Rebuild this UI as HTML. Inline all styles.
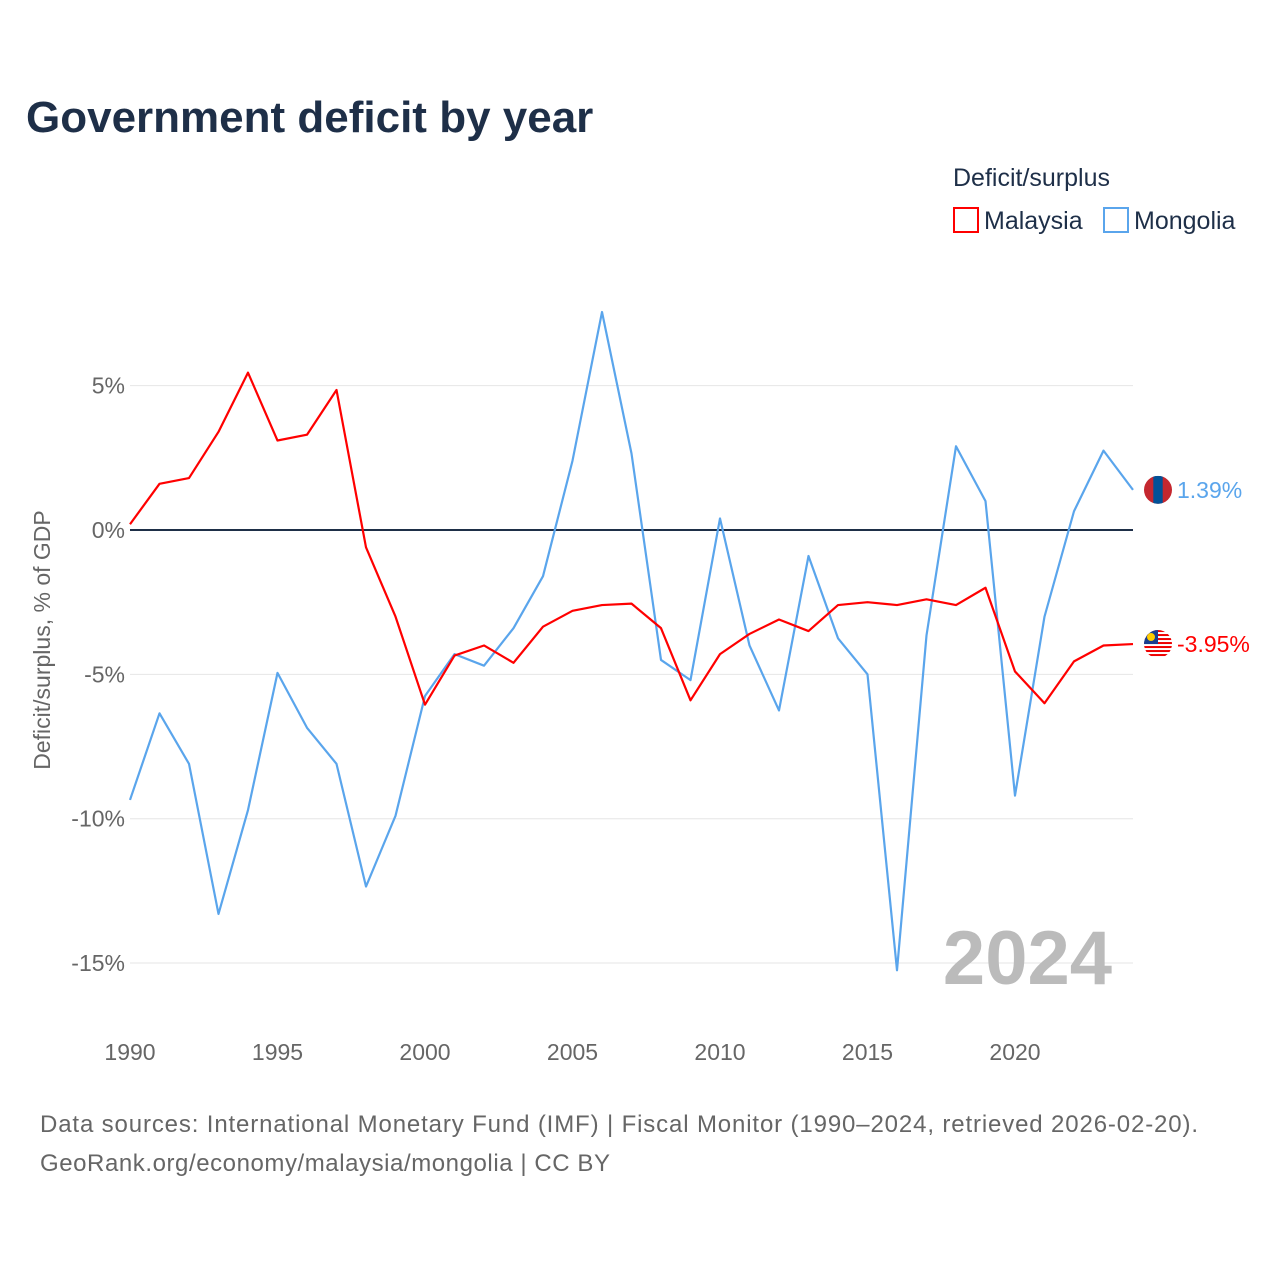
<!DOCTYPE html>
<html><head><meta charset="utf-8"><style>
body{margin:0;background:#fff;font-family:"Liberation Sans",sans-serif}
svg text{font-family:"Liberation Sans",sans-serif}
</style></head><body>
<svg id="c" width="1280" height="1280" xmlns="http://www.w3.org/2000/svg">
<defs>
<clipPath id="cm"><circle cx="0" cy="0" r="14"/></clipPath>
</defs>
<text x="26" y="132" font-size="44" font-weight="bold" fill="#1e2f48">Government deficit by year</text>
<text x="953" y="186" font-size="25" fill="#1e2f48">Deficit/surplus</text>
<g><rect x="954" y="208" width="24" height="24" fill="none" stroke="#f00" stroke-width="2"/><text x="984" y="229" font-size="25" fill="#1e2f48">Malaysia</text></g>
<g><rect x="1104" y="208" width="24" height="24" fill="none" stroke="#5aa5ec" stroke-width="2"/><text x="1134" y="229" font-size="25" fill="#1e2f48">Mongolia</text></g>
<text transform="translate(50,640) rotate(-90)" text-anchor="middle" font-size="23" fill="#666">Deficit/surplus, % of GDP</text>
<g id="grid"></g><g id="lines"></g>
<text x="1112" y="984" text-anchor="end" font-size="76" font-weight="bold" fill="#bbb">2024</text>
<text x="40" y="1132" font-size="24" fill="#666" textLength="1158">Data sources: International Monetary Fund (IMF) | Fiscal Monitor (1990–2024, retrieved 2026-02-20).</text>
<text x="40" y="1171" font-size="24" fill="#666" textLength="570">GeoRank.org/economy/malaysia/mongolia | CC BY</text>
</svg>
<script>
const years=[];for(let y=1990;y<=2024;y++)years.push(y);
const malaysia=[0.2,1.6,1.8,3.4,5.45,3.1,3.3,4.85,-0.6,-3.0,-6.05,-4.35,-4.0,-4.6,-3.35,-2.8,-2.6,-2.55,-3.4,-5.9,-4.3,-3.6,-3.1,-3.5,-2.6,-2.5,-2.6,-2.4,-2.6,-2.0,-4.9,-6.0,-4.55,-4.0,-3.95];
const mongolia=[-9.35,-6.35,-8.1,-13.3,-9.7,-4.95,-6.85,-8.1,-12.35,-9.9,-5.75,-4.3,-4.7,-3.4,-1.6,2.4,7.55,2.65,-4.5,-5.2,0.4,-4.0,-6.25,-0.9,-3.75,-5.0,-15.25,-3.65,2.9,1.0,-9.2,-3.0,0.65,2.75,1.39];
const yTicks=[5,0,-5,-10,-15];
const xTicks=[1990,1995,2000,2005,2010,2015,2020];
const X=y=>130+(y-1990)*29.5, Y=v=>530-v*28.87;
const NS='http://www.w3.org/2000/svg';
const grid=document.getElementById('grid'),lines=document.getElementById('lines');
function mk(t,a,p){const e=document.createElementNS(NS,t);for(const k in a)e.setAttribute(k,a[k]);p.appendChild(e);return e;}
yTicks.forEach(v=>{
 const l=mk('line',{x1:130,x2:1133,y1:Y(v),y2:Y(v),stroke:v===0?'#1e2f48':'#e6e6e6','stroke-width':v===0?2:1},grid);
 
 
 const t=mk('text',{x:125,y:Y(v)+8,'text-anchor':'end','font-size':23,fill:'#666'},grid);t.textContent=v+'%';
 
 
});
xTicks.forEach(y=>{const t=mk('text',{x:X(y),y:1060,'text-anchor':'middle','font-size':23,fill:'#666'},grid);t.textContent=y;
 
 });
function series(vals,col,name,fmt,flag){
 const p=mk('polyline',{points:vals.map((v,i)=>X(years[i])+','+Y(v)).join(' '),fill:'none',stroke:col,'stroke-width':2.2,'stroke-linejoin':'round'},lines);
 
 
 const lv=vals[vals.length-1],cx=X(2024)+25,cy=Y(lv);
 const g=mk('g',{transform:'translate('+cx+','+cy+')','clip-path':'url(#cm)'},lines);
 
 
 flag(g);
 const t=mk('text',{x:cx+19,y:cy+8,'font-size':23,fill:col},lines);t.textContent=fmt;
 
 
}
series(mongolia,'#5aa5ec','mongolia','1.39%',g=>{
 mk('rect',{x:-14,y:-14,width:28,height:28,fill:'#c4272f'},g);
 mk('rect',{x:-4.7,y:-14,width:9.4,height:28,fill:'#015197'},g);
});
series(malaysia,'#f00','malaysia','-3.95%',g=>{
 for(let i=0;i<7;i++)mk('rect',{x:-14,y:-14+i*4,width:28,height:2,fill:'#e00'},g);
 mk('rect',{x:-14,y:-14,width:28,height:28,fill:'none'},g);
 mk('rect',{x:-14,y:-14,width:14,height:14,fill:'#1a3e8f'},g);
 mk('circle',{cx:-7,cy:-7,r:4,fill:'#fc0'},g);
});
</script>
</body></html>
